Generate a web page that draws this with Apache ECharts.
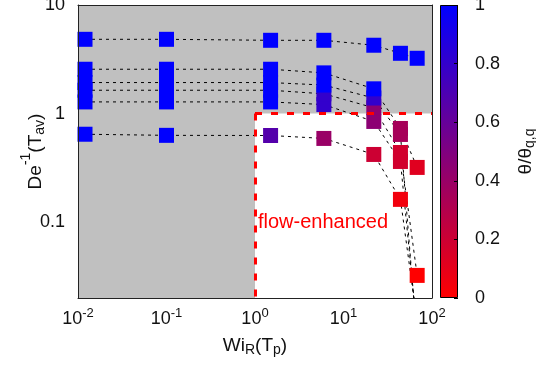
<!DOCTYPE html>
<html><head><meta charset="utf-8">
<script src="https://cdn.jsdelivr.net/npm/echarts@6/dist/echarts.min.js"></script>
<style>html,body{margin:0;padding:0;background:#fff}#c{width:536px;height:368px}</style>
</head><body><div id="c"></div>
<script>
// ---- data ----
const wiR = [0.012, 0.1, 1.5, 6, 22, 44, 68];
const deInv1 = [4.83, 4.83, 4.73, 4.73, 4.26, 3.59, 3.23];
const theta1 = [1, 1, 1, 1, 1, 1, 1];
const deInv2 = [2.56, 2.56, 2.56, 2.37, 1.69, 0.729, 0.319];
const theta2 = [1, 1, 1, 1, 1, 0.35, 0.12];
const deInv3 = [1.93, 1.93, 1.93, 1.83, 1.39, 0.642, 0.008];
const theta3 = [1, 1, 1, 1, 0.8, 0.35, 0];
const deInv4 = [1.64, 1.64, 1.64, 1.52, 1.13, 0.438, 0.0323];
const theta4 = [1, 1, 1, 0.8, 0.45, 0.18, 0];
const deInv5 = [1.28, 1.28, 1.28, 1.21, 0.846, 0.362, 0.01];
const theta5 = [1, 1, 1, 0.8, 0.45, 0.18, 0];
const deInv6 = [0.645, 0.63, 0.628, 0.59, 0.42, 0.162, 0.012];
const theta6 = [1, 1, 0.67, 0.4, 0.2, 0.05, 0];

const xRange = [0.01, 100];
const yRange = [0.02, 10];
const enhancedCorner = [1, 1];           // Wi_R >= 1, De^-1 <= 1
const enhancedLabel = 'flow-enhanced';
const xTickExponents = [-2, -1, 0, 1, 2];
const yTickValues = [0.1, 1, 10];
const colorTicks = [0, 0.2, 0.4, 0.6, 0.8, 1];
const colorScale = ['#ff0000', '#0000ff'];

// ---- chart ----
const FONT = "'Liberation Sans', Arial, sans-serif";
const TXT = '#111';
const chart = echarts.init(document.getElementById('c'));

const ys = [deInv1, deInv2, deInv3, deInv4, deInv5, deInv6];
const ts = [theta1, theta2, theta3, theta4, theta5, theta6];

const isPow = (v, list) => list.some(e => Math.abs(Math.log10(v) - e) < 1e-6);

const series = [];
// region (white flow-enhanced area + red dashed boundary)
series.push({
  type: 'line', xAxisIndex: 0, yAxisIndex: 0, data: [], silent: true, z: 1,
  markArea: {
    silent: true, z: 1, itemStyle: { color: '#ffffff', borderWidth: 0 }, label: { show: false },
    data: [[{ coord: [enhancedCorner[0], yRange[0]] }, { coord: [xRange[1], enhancedCorner[1]] }]]
  },
  markLine: {
    silent: true, symbol: ['none', 'none'], label: { show: false }, animation: false,
    lineStyle: { color: '#ff0000', width: 3, type: [7, 9] },
    data: [
      [{ coord: [enhancedCorner[0], enhancedCorner[1]] }, { coord: [enhancedCorner[0], yRange[0]] }],
      [{ coord: [enhancedCorner[0], enhancedCorner[1]] }, { coord: [xRange[1], enhancedCorner[1]] }]
    ]
  }
});
// dashed connecting lines
ys.forEach(arr => series.push({
  type: 'line', xAxisIndex: 0, yAxisIndex: 0, symbol: 'none', silent: true, z: 2, clip: true,
  lineStyle: { color: '#000', width: 1, type: [3, 4] },
  data: wiR.map((x, j) => [x, arr[j]])
}));
// square markers (drawn last series first)
const scatterIdx = [];
for (let i = ys.length - 1; i >= 0; i--) {
  scatterIdx.push(series.length);
  series.push({
    type: 'scatter', xAxisIndex: 0, yAxisIndex: 0, symbol: 'rect', symbolSize: 15, z: 3, clip: true,
    itemStyle: { opacity: 1 },
    data: wiR.map((x, j) => [x, ys[i][j], ts[i][j]])
  });
}
// colorbar
series.push({
  type: 'bar', xAxisIndex: 2, yAxisIndex: 2, barWidth: '100%', silent: true, z: 2,
  data: [colorTicks[colorTicks.length - 1]],
  itemStyle: {
    borderColor: '#000', borderWidth: 1, opacity: 1,
    color: new echarts.graphic.LinearGradient(0, 1, 0, 0, colorScale.map((c, k) => ({ offset: k / (colorScale.length - 1), color: c })))
  }
});

const baseLabel = { fontFamily: FONT, color: TXT };
const axisLineStyle = { show: true, lineStyle: { color: '#222', width: 1 } };

const option = {
  animation: false,
  backgroundColor: '#fff',
  grid: [
    { left: 78, top: 5, width: 354, height: 293, show: true, backgroundColor: '#c0c0c0', borderWidth: 0, outerBoundsMode: 'none', containLabel: false },
    { left: 440, top: 5, width: 18, height: 293, show: false, outerBoundsMode: 'none', containLabel: false }
  ],
  xAxis: [
    {
      type: 'log', logBase: 10, gridIndex: 0, min: xRange[0], max: xRange[1], position: 'bottom', z: 6,
      axisLine: axisLineStyle, axisTick: { show: false }, minorTick: { show: false }, splitLine: { show: false },
      axisLabel: {
        margin: 12, ...baseLabel,
        formatter: v => isPow(v, xTickExponents) ? '{b|10}{s|' + Math.round(Math.log10(v)) + '}' : '',
        rich: {
          b: { fontSize: 18, lineHeight: 18, fontFamily: FONT, color: TXT, verticalAlign: 'bottom' },
          s: { fontSize: 13, lineHeight: 13, fontFamily: FONT, color: TXT, padding: [0, 0, 12, 0] }
        }
      },
      name: '{b|Wi}{s|R}{b|(T}{s|p}{b|)}', nameLocation: 'middle', nameGap: 38,
      nameTextStyle: {
        ...baseLabel,
        rich: {
          b: { fontSize: 19, lineHeight: 19, fontFamily: FONT, color: TXT, verticalAlign: 'top' },
          s: { fontSize: 14, lineHeight: 14, fontFamily: FONT, color: TXT, verticalAlign: 'top', padding: [7, 0, 0, 0] }
        }
      }
    },
    {
      type: 'log', logBase: 10, gridIndex: 0, min: xRange[0], max: xRange[1], position: 'top', z: 6,
      axisLine: axisLineStyle, axisTick: { show: false }, axisLabel: { show: false }, splitLine: { show: false }
    },
    {
      type: 'category', gridIndex: 1, data: ['c'], show: false
    }
  ],
  yAxis: [
    {
      type: 'log', logBase: 10, gridIndex: 0, min: yRange[0], max: yRange[1], position: 'left', z: 6,
      axisLine: axisLineStyle, axisTick: { show: false }, minorTick: { show: false }, splitLine: { show: false },
      axisLabel: {
        margin: 13, fontSize: 18, ...baseLabel,
        formatter: v => isPow(v, yTickValues.map(t => Math.round(Math.log10(t)))) ? String(Number(v.toPrecision(6))) : ''
      },
      name: '{b|De}{p|-1}{b|(T}{u|av}{b|)}', nameLocation: 'middle', nameGap: 40, nameMoveOverlap: false,
      nameTextStyle: {
        ...baseLabel,
        rich: {
          b: { fontSize: 19, lineHeight: 19, fontFamily: FONT, color: TXT, verticalAlign: 'top', padding: [7, 0, 0, 0] },
          p: { fontSize: 14, lineHeight: 14, fontFamily: FONT, color: TXT, verticalAlign: 'top' },
          u: { fontSize: 14, lineHeight: 14, fontFamily: FONT, color: TXT, verticalAlign: 'top', padding: [14, 0, 0, 0] }
        }
      }
    },
    {
      type: 'log', logBase: 10, gridIndex: 0, min: yRange[0], max: yRange[1], position: 'right', z: 6,
      axisLine: axisLineStyle, axisTick: { show: false }, axisLabel: { show: false }, splitLine: { show: false }
    },
    {
      type: 'value', gridIndex: 1, min: colorTicks[0], max: colorTicks[colorTicks.length - 1], interval: 0.2, position: 'right', z: 6,
      axisLine: { show: false }, splitLine: { show: false },
      axisTick: { show: true, inside: true, length: 4, lineStyle: { color: '#000', width: 1 } },
      axisLabel: { margin: 17, fontSize: 18, ...baseLabel, formatter: v => String(Number(v.toFixed(1))) },
      name: '{b|θ/θ}{s|q,q}', nameLocation: 'middle', nameRotate: 90, nameGap: 58,
      nameTextStyle: {
        ...baseLabel,
        rich: {
          b: { fontSize: 19, lineHeight: 19, fontFamily: FONT, color: TXT, verticalAlign: 'top' },
          s: { fontSize: 14, lineHeight: 14, fontFamily: FONT, color: TXT, verticalAlign: 'top', padding: [7, 0, 0, 0] }
        }
      }
    }
  ],
  visualMap: {
    show: false, type: 'continuous', min: colorTicks[0], max: colorTicks[colorTicks.length - 1],
    dimension: 2, seriesIndex: scatterIdx, inRange: { color: colorScale, opacity: 1 }
  },
  graphic: [{
    type: 'text', left: 258, top: 212, z: 10, silent: true,
    style: { text: enhancedLabel, fill: '#ff0000', fontSize: 20, fontFamily: FONT }
  }],
  series: series
};
chart.setOption(option);
</script>
</body></html>
